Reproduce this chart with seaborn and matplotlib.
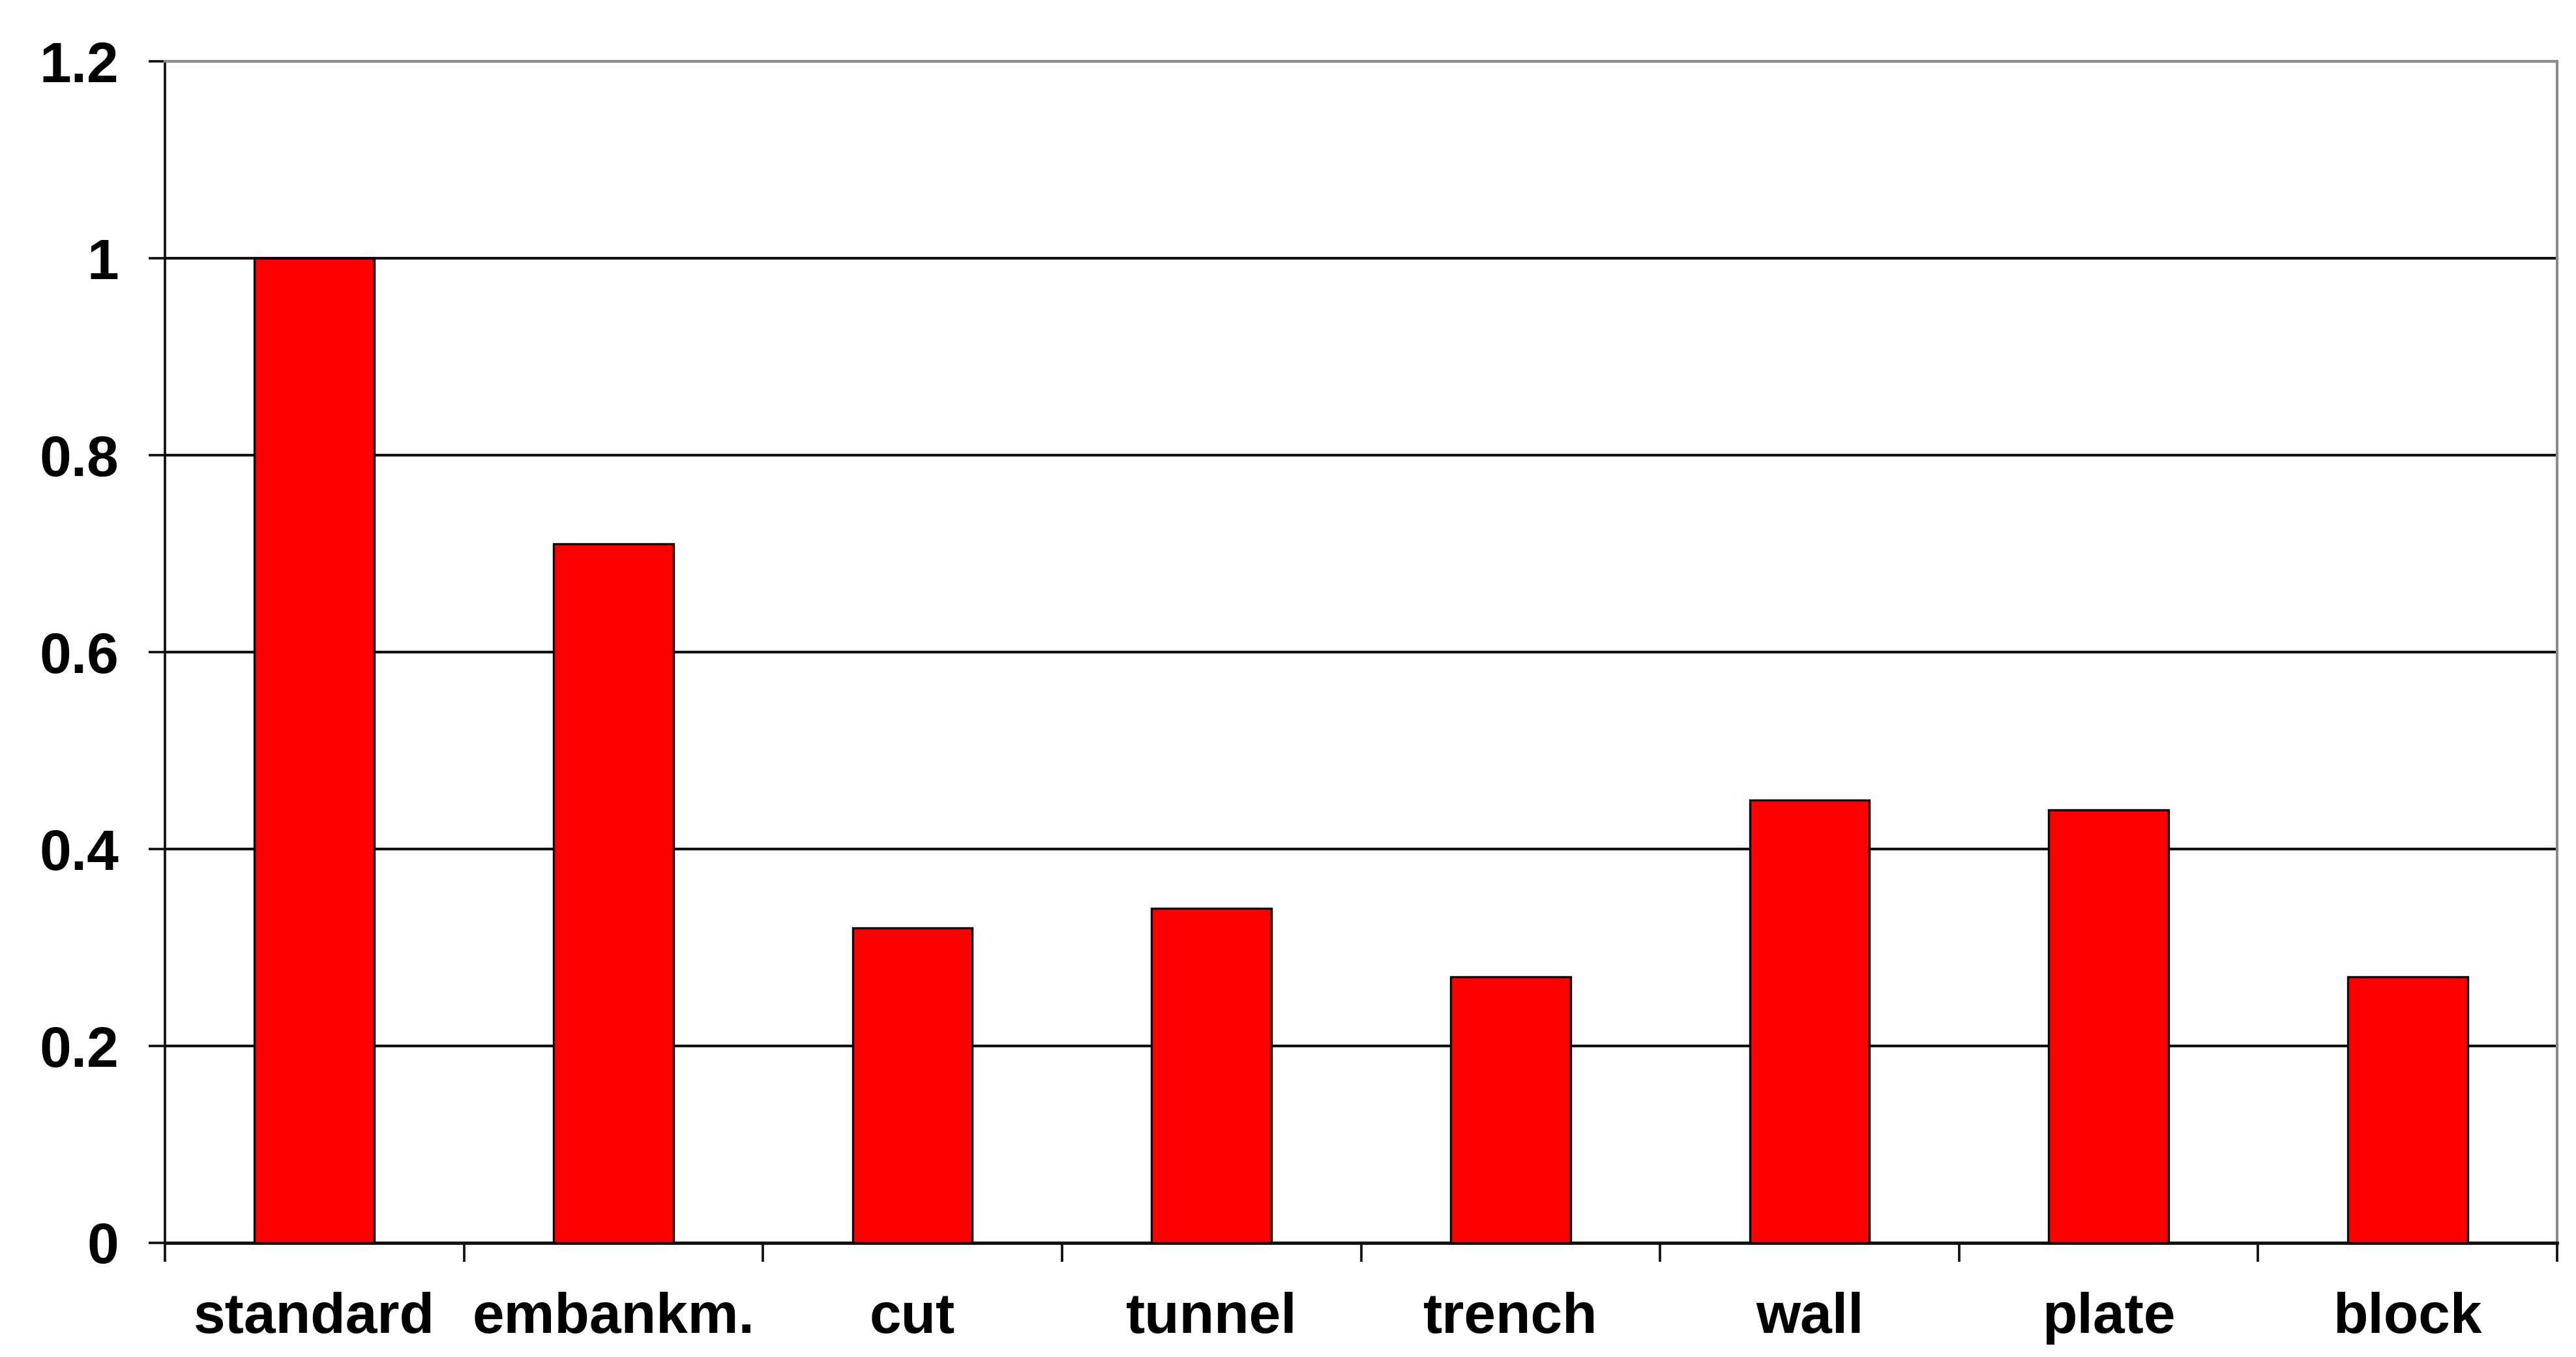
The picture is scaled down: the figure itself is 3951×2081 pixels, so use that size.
import pandas as pd
import seaborn as sns
import matplotlib.pyplot as plt
from matplotlib.ticker import FixedLocator

# values
categories = ['standard', 'embankm.', 'cut', 'tunnel', 'trench', 'wall', 'plate', 'block']
values = [1.0, 0.71, 0.32, 0.34, 0.27, 0.45, 0.44, 0.27]
y_ticks = [0, 0.2, 0.4, 0.6, 0.8, 1.0, 1.2]
y_tick_labels = ['0', '0.2', '0.4', '0.6', '0.8', '1', '1.2']

df = pd.DataFrame({'Category': categories, 'Value': values})

sns.set_theme(style='white')
plt.rcParams['font.family'] = ['Liberation Sans', 'DejaVu Sans']
plt.rcParams['font.weight'] = 'bold'

fig = plt.figure(figsize=(3951 / 300, 2081 / 300), dpi=300)
ax = fig.add_axes([0.064, 0.0841, 0.9287, 0.8707])

sns.barplot(data=df, x='Category', y='Value', color='#ff0000', width=0.4,
            edgecolor='black', linewidth=0.8, saturation=1, ax=ax, zorder=3)

ax.set_ylim(0, 1.2)
ax.set_xlim(-0.5, len(categories) - 0.5)

# horizontal grid lines
ax.yaxis.grid(True, color='#111111', linewidth=1.0, zorder=1)
ax.xaxis.grid(False)
ax.set_axisbelow(True)

ax.set_yticks(y_ticks)
ax.set_yticklabels(y_tick_labels)
ax.tick_params(axis='y', which='major', left=True, length=6, width=0.9,
               color='#111111', pad=11, labelsize=21)

# x: labels on the bars, tick marks between categories
ax.tick_params(axis='x', which='major', bottom=False, length=0, pad=18, labelsize=21)
ax.xaxis.set_minor_locator(FixedLocator([i - 0.5 for i in range(len(categories) + 1)]))
ax.tick_params(axis='x', which='minor', bottom=True, length=7, width=0.9, color='#111111')

for lbl in ax.get_xticklabels() + ax.get_yticklabels():
    lbl.set_fontweight('bold')
    lbl.set_color('black')

ax.set_xlabel('')
ax.set_ylabel('')

ax.spines['left'].set_color('#111111')
ax.spines['left'].set_linewidth(0.9)
ax.spines['bottom'].set_color('#111111')
ax.spines['bottom'].set_linewidth(1.2)
ax.spines['top'].set_color('#8c8c8c')
ax.spines['top'].set_linewidth(1.0)
ax.spines['right'].set_color('#8c8c8c')
ax.spines['right'].set_linewidth(1.0)

fig.savefig('out.png', dpi=300, facecolor='white')
